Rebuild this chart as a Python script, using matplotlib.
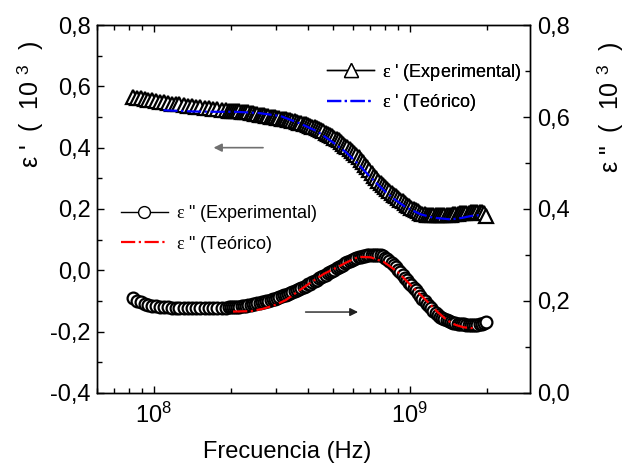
import matplotlib.pyplot as plt
from matplotlib.ticker import FuncFormatter, MultipleLocator, LogLocator

plt.rcParams['font.family'] = ['Liberation Sans', 'DejaVu Sans']
plt.rcParams['mathtext.fontset'] = 'custom'
plt.rcParams['mathtext.rm'] = 'Liberation Sans'
plt.rcParams['mathtext.it'] = 'Liberation Serif'

# frequency grid of the measurement (MHz)
freq_mhz = [83, 86, 89, 92, 95, 98, 102, 106, 110, 114, 118, 122, 126, 131, 136, 141, 146, 152,
            158, 164, 170, 177, 184, 191, 196,
            200, 204, 208, 212, 216, 221, 225, 230, 234, 239, 244, 249, 254, 259, 264, 269, 275,
            280, 286, 292, 297, 303, 309, 316, 322, 328, 335, 342, 348, 355, 362, 370, 377, 385,
            392, 400, 408, 416, 425, 433, 442, 451, 460, 469, 478, 488, 497, 507, 518, 528, 538,
            549, 560, 571, 583, 594, 606, 618, 631, 643, 656, 669, 683, 696, 710, 725, 739, 754,
            769, 784, 800, 816, 832, 849, 866, 883, 901, 919, 937, 956, 975, 995, 1015, 1035,
            1056, 1077, 1098, 1120, 1143, 1165, 1189, 1212, 1237, 1261, 1286, 1312, 1338, 1365,
            1393, 1420, 1449, 1478, 1507, 1537, 1568, 1600, 1632, 1664, 1697, 1731, 1766, 1801,
            1837, 1874, 1912, 1950, 1980]

# epsilon' (left axis, x10^3)
eps1_exp = [.565, .563, .561, .559, .557, .555, .553, .550, .548, .546, .544, .542, .541, .539,
            .537, .535, .533, .531, .530, .528, .527, .525, .524, .522, .521,
            .520, .520, .519, .518, .518, .517, .516, .515, .515, .514, .512, .511, .510, .508,
            .507, .506, .504, .503, .501, .500, .499, .498, .496, .495, .493, .492, .490, .489,
            .488, .486, .484, .482, .481, .478, .476, .474, .471, .469, .466, .463, .460, .456,
            .453, .449, .445, .441, .437, .433, .428, .424, .419, .413, .407, .401, .395, .389,
            .382, .375, .368, .361, .353, .345, .336, .327, .318, .309, .300, .292, .285, .279,
            .272, .265, .259, .253, .247, .242, .236, .230, .225, .219, .214, .209, .204, .200,
            .196, .192, .188, .185, .183, .181, .180, .179, .179, .179, .179, .179, .180, .180,
            .181, .182, .182, .183, .184, .185, .186, .186, .187, .188, .188, .189, .189, .190,
            .190, .190, .189, .186, .176]

# epsilon'' (right axis, x10^3)
eps2_exp = [.206, .201, .197, .194, .192, .190, .189, .188, .187, .186, .185, .185, .184, .184,
            .184, .184, .184, .184, .184, .184, .184, .185, .185, .185, .186,
            .186, .186, .187, .187, .188, .189, .189, .190, .191, .192, .193, .194, .195, .196,
            .197, .198, .200, .201, .202, .204, .205, .207, .209, .211, .212, .214, .216, .218,
            .220, .222, .224, .226, .228, .231, .233, .236, .238, .241, .244, .246, .249, .252,
            .255, .257, .260, .263, .265, .268, .271, .274, .276, .279, .282, .284, .287, .289,
            .291, .293, .295, .296, .297, .298, .299, .300, .301, .301, .301, .300, .299, .297,
            .294, .291, .287, .283, .278, .273, .268, .262, .256, .251, .246, .240, .235, .229,
            .223, .217, .211, .205, .200, .194, .189, .184, .178, .173, .169, .166, .163, .161,
            .158, .156, .155, .153, .152, .151, .150, .149, .149, .148, .148, .147, .147, .148,
            .148, .149, .150, .152, .154]

freq_th1 = [109, 142, 178, 209, 257, 313, 375, 437, 500, 562, 620, 673, 740, 806, 880, 965,
            1100, 1230, 1445, 1600, 1730, 1860]
eps1_th = [.522, .518, .517, .517, .513, .503, .478, .452, .418, .386, .352, .320, .285, .255,
           .229, .206, .183, .172, .166, .171, .177, .180]

freq_th2 = [204, 240, 267, 300, 328, 360, 400, 462, 520, 562, 631, 704, 791, 898, 1027, 1175,
            1285, 1400, 1510, 1620, 1730, 1810]
eps2_th = [.177, .178, .183, .192, .202, .218, .236, .259, .273, .283, .296, .295, .285, .263,
           .230, .198, .176, .158, .148, .143, .141, .142]

f1 = [f * 1e6 for f in freq_mhz]
ft1 = [f * 1e6 for f in freq_th1]
ft2 = [f * 1e6 for f in freq_th2]

comma = FuncFormatter(lambda v, p: ('%.1f' % v).replace('.', ',').replace('-0,0', '0,0'))

fig = plt.figure(figsize=(6.25, 4.63), dpi=100)
ax = fig.add_axes([0.1552, 0.1512, 0.6928, 0.7948])
ax2 = ax.twinx()

l1, = ax.plot(f1, eps1_exp, color='black', lw=1, marker='^', ms=9.5, mfc='white',
              mec='black', mew=1.6, label=r"$\varepsilon$ ' (Experimental)")
l2, = ax.plot(ft1, eps1_th, color='#0000ff', lw=1.6, ls='-.',
              label=r"$\varepsilon$ ' (Teórico)")
l3, = ax2.plot(f1, eps2_exp, color='black', lw=1, marker='o', ms=8.5, mfc='white',
               mec='black', mew=1.6, label=r'$\varepsilon$ " (Experimental)')
l4, = ax2.plot(ft2, eps2_th, color='#ff0000', lw=1.6, ls='-.',
               label=r'$\varepsilon$ " (Teórico)')

ax.set_xscale('log')
ax.set_xlim(6.0e7, 2.95e9)
ax.set_ylim(-0.4, 0.8)
ax2.set_ylim(0.0, 0.8)

ax.yaxis.set_major_locator(MultipleLocator(0.2))
ax.yaxis.set_minor_locator(MultipleLocator(0.1))
ax2.yaxis.set_major_locator(MultipleLocator(0.2))
ax2.yaxis.set_minor_locator(MultipleLocator(0.1))
ax.yaxis.set_major_formatter(comma)
ax2.yaxis.set_major_formatter(comma)
ax.xaxis.set_major_locator(LogLocator(base=10))
ax.xaxis.set_minor_locator(LogLocator(base=10, subs=range(2, 10)))

for a in (ax, ax2):
    for s in a.spines.values():
        s.set_linewidth(1.0)
ax.tick_params(which='both', direction='in', top=True, labelsize=17, width=1)
ax.tick_params(which='major', length=5)
ax.tick_params(which='minor', length=3.5)
ax.tick_params(axis='y', pad=4.5)
ax.tick_params(axis='x', pad=7)
ax2.tick_params(which='both', direction='in', labelsize=17, width=1, pad=5)
ax2.tick_params(which='major', length=5)
ax2.tick_params(which='minor', length=3.5)

# arrows pointing each curve to its axis
ax.annotate('', xy=(1.67e8, 0.4), xytext=(2.74e8, 0.4),
            arrowprops=dict(arrowstyle='-|>', color='#707070', lw=1.2, mutation_scale=12))
ax2.annotate('', xy=(6.44e8, 0.176), xytext=(3.82e8, 0.176),
             arrowprops=dict(arrowstyle='-|>', color='#202020', lw=1.0, mutation_scale=12))

leg1 = ax.legend(handles=[l1, l2], loc='upper right', bbox_to_anchor=(0.98, 0.90),
                 frameon=False, fontsize=13, handlelength=2.6, handletextpad=0.45,
                 labelspacing=0.5, borderpad=0, borderaxespad=0)
ax.add_artist(leg1)
leg2 = ax2.legend(handles=[l3, l4], loc='upper left', bbox_to_anchor=(0.055, 0.515),
                  frameon=False, fontsize=13, handlelength=2.6, handletextpad=0.45,
                  labelspacing=0.5, borderpad=0, borderaxespad=0)
# thinner marker edges in the legend, as in the original
for leg in (leg1, leg2):
    for h in leg.get_lines():
        h.set_markeredgewidth(1.0)

fig.text(287.5 / 625, 1 - 452 / 463, 'Frecuencia (Hz)', fontsize=17,
         ha='center', va='center')
fig.text(30 / 625, 1 - 104 / 463, "ε '  (  10 $^{3}$  )", fontsize=18, rotation=90,
         ha='center', va='center')
fig.text(610 / 625, 1 - 107 / 463, 'ε "  (  10 $^{3}$  )', fontsize=18, rotation=90,
         ha='center', va='center')

fig.savefig('out.png', dpi=100)
